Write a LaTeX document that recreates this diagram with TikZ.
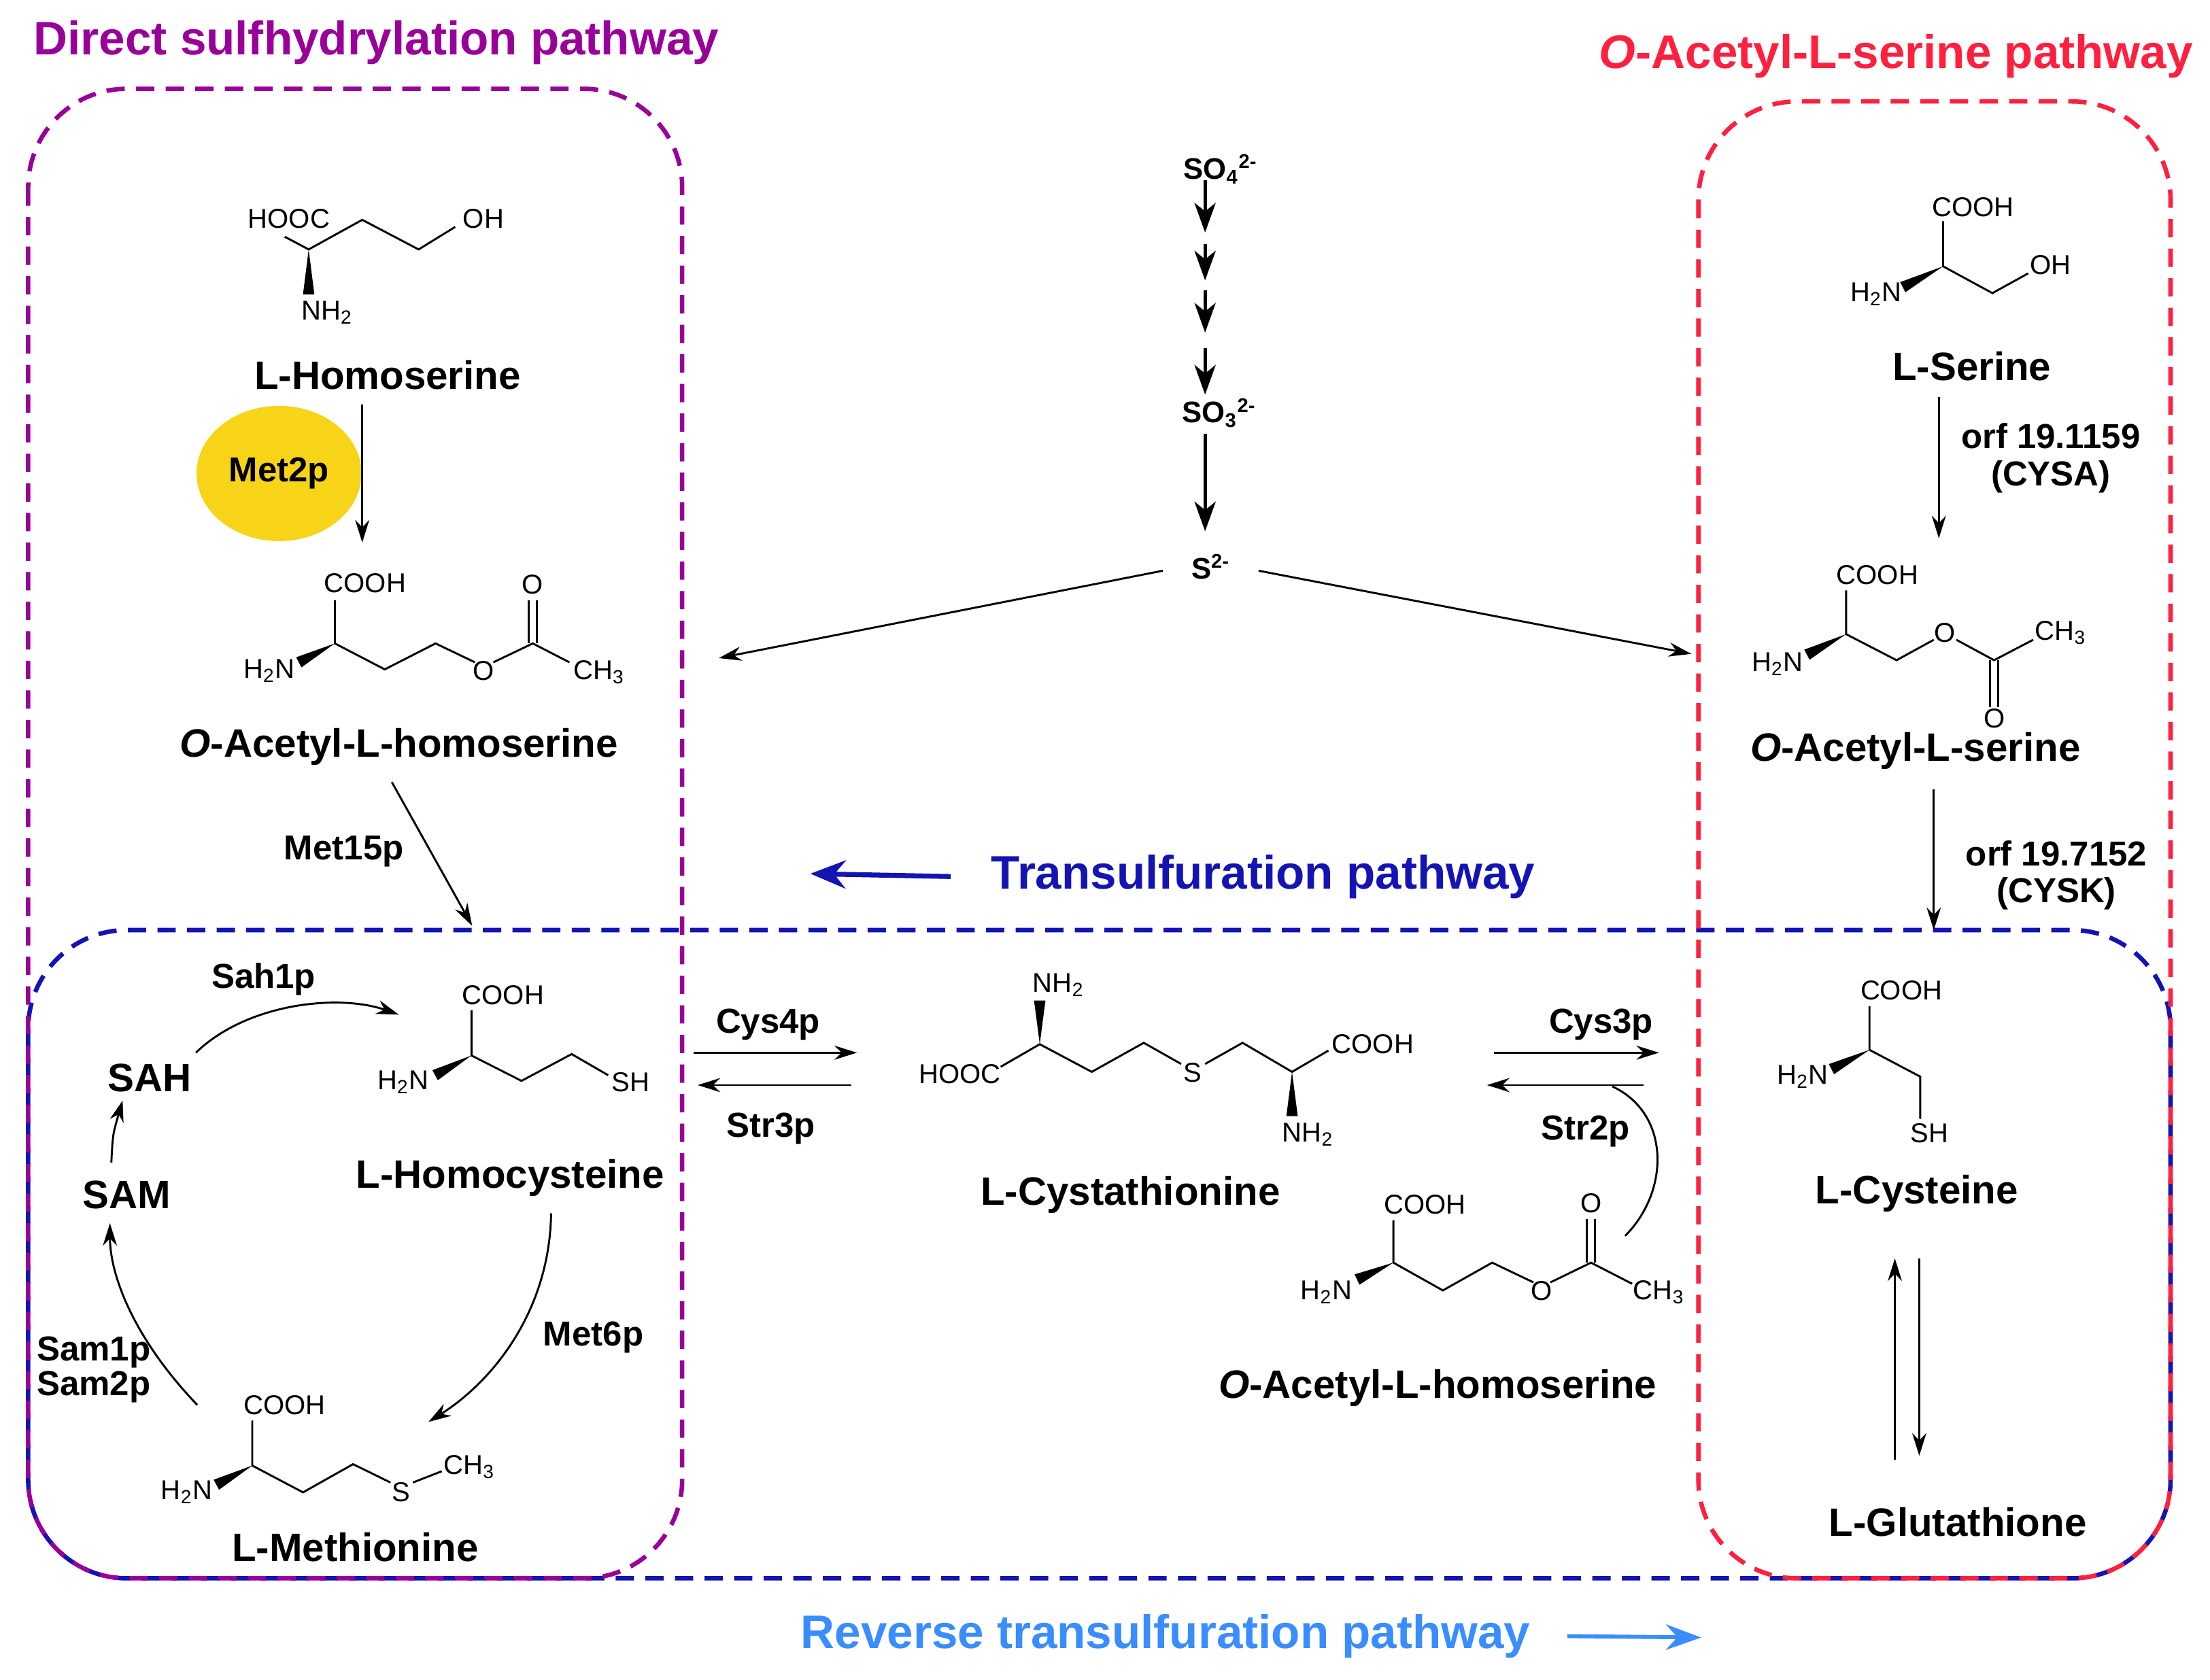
\documentclass[tikz,border=0pt]{standalone}
\usepackage{fontspec}
\setmainfont{Liberation Sans}
\usetikzlibrary{calc,arrows.meta,positioning,shapes.geometric}

\definecolor{dsPurple}{HTML}{990099}
\definecolor{oasRed}{HTML}{FF2040}
\definecolor{tsBlue}{HTML}{1414B4}
\definecolor{rtsBlue}{HTML}{3A8DFF}
\definecolor{enzYellow}{HTML}{F7D417}

\tikzset{
    bond/.style={line width=0.8pt},
    rxn/.style={line width=0.8pt,-{Stealth[length=0.32cm,width=0.2cm]}},
    bigrxn/.style={line width=1.4pt,-{Stealth[length=0.42cm,width=0.3cm,inset=0.12cm]}},
    atom/.style={inner sep=0.5pt,font=\fontsize{11}{11}\selectfont},
    mol/.style={font=\bfseries\fontsize{16}{16}\selectfont},
    enz/.style={font=\bfseries\fontsize{14}{14}\selectfont},
    ttl/.style={font=\bfseries\fontsize{19}{19}\selectfont},
    pathbox/.style={line width=1.8pt,dash pattern=on 0.26cm off 0.16cm,rounded corners=1.4cm},
}

\newcommand{\chemwedge}[2]{\fill #1 -- ($#2!2.3pt!90:#1$) -- ($#2!2.3pt!-90:#1$) -- cycle;}
\newcommand{\dblbond}[2]{\draw[bond] ([xshift=-1.6pt]#1) -- ([xshift=-1.6pt]#2);
    \draw[bond] ([xshift=1.6pt]#1) -- ([xshift=1.6pt]#2);}

\begin{document}
\begin{tikzpicture}[x=0.02cm,y=-0.02cm]
    \useasboundingbox (0,0) rectangle (1568,1192);

    % pathway boxes
    \draw[pathbox,tsBlue] (20,660) rectangle (1540,1120);
    \draw[pathbox,dsPurple] (20,63) rectangle (484,1120);
    \draw[pathbox,oasRed] (1205,72) rectangle (1540,1120);

    % titles
    \node[ttl,dsPurple] (dsTitle) at (267,30) {Direct sulfhydrylation pathway};
    \node[ttl,oasRed,anchor=east] (oasTitle) at (1562,40) {\textit{O}-Acetyl-L-serine pathway};
    \node[ttl,tsBlue,anchor=west] (tsTitle) at (697,622) {Transulfuration pathway};
    \coordinate (tsArrow) at (575,620);
    \draw[tsBlue,line width=2pt,-{Stealth[length=0.5cm,width=0.4cm]}] ([xshift=-0.45cm]tsTitle.west) -- (tsArrow);
    \node[ttl,rtsBlue,anchor=west] (rtsTitle) at (562,1161) {Reverse transulfuration pathway};
    \coordinate (rtsArrow) at (1207,1162);
    \draw[rtsBlue,line width=1.6pt,-{Stealth[length=0.5cm,width=0.36cm]}] ([xshift=0.4cm]rtsTitle.east) -- (rtsArrow);

    % L-Homoserine
    \node[atom] (hsCOOH) at (205,155) {HOOC};
    \node[atom] (hsOH) at (343,155) {OH};
    \node[atom] (hsN) at (232,222) {NH\textsubscript{2}};
    \draw[bond] (202,168) -- (219,177) -- (257,156) -- (297,177) -- (323,161);
    \chemwedge{(219,177)}{(219,209)}
    \node[mol] (homoser) at (275,266) {L-Homoserine};

    % Met2p
    \node[ellipse,fill=enzYellow,minimum width=2.24cm,minimum height=1.92cm,enz] (met2) at (198,336) {Met2p};
    \coordinate (oahTop) at (257,385);
    \draw[rxn] (257,287) -- (oahTop);

    % O-Acetyl-L-homoserine (left)
    \node[atom] at (259,414) {COOH};
    \node[atom] at (191,476) {H\textsubscript{2}N};
    \node[atom] at (343,476) {O};
    \node[atom] at (378,415) {O};
    \node[atom] at (425,477) {CH\textsubscript{3}};
    \draw[bond] (237.6,426) -- (237.6,456.6) -- (273,475) -- (309,456.6) -- (337,470);
    \draw[bond] (350,470) -- (378,456.6) -- (404,470);
    \dblbond{378,456.6}{378,426}
    \chemwedge{(237.6,456.6)}{(212,470)}
    \node[mol] (oahL) at (283,530) {\textit{O}-Acetyl-L-homoserine};
    \node[enz] (met15) at (244,604) {Met15p};
    \coordinate (hcyTop) at (335,657);
    \draw[rxn] (278,555) -- (hcyTop);

    % sulfate assimilation
    \node[atom,font=\bfseries\fontsize{12}{12}\selectfont] (so4) at (866,120) {SO\textsubscript{4}\textsuperscript{2-}};
    \node[atom,font=\bfseries\fontsize{12}{12}\selectfont] (so3) at (865,293) {SO\textsubscript{3}\textsuperscript{2-}};
    \node[atom,font=\bfseries\fontsize{12}{12}\selectfont] (s2) at (859,402) {S\textsuperscript{2-}};
    \foreach \ya/\yb in {128/165,173/199,206/236,247/280}
        \draw[bigrxn] (855,\ya) -- (855,\yb);
    \draw[bigrxn] (855,308) -- (855,377);
    \coordinate (sLeft) at (510,467);
    \coordinate (sRight) at (1200,464);
    \draw[rxn] (825,405) -- (sLeft);
    \draw[rxn] (893,405) -- (sRight);

    % L-Serine
    \node[atom] at (1400,147) {COOH};
    \node[atom] at (1331,209) {H\textsubscript{2}N};
    \node[atom] at (1455,188) {OH};
    \draw[bond] (1378.6,157) -- (1378.6,189) -- (1413.6,208) -- (1439,194);
    \chemwedge{(1378.6,189)}{(1350,203.8)}
    \node[mol] (serine) at (1399,260) {L-Serine};
    \draw[rxn] (1375.6,282) -- (1375.6,382);
    \node[enz,align=center] (cysA) at (1455,325) {orf 19.1159\\[1pt](CYSA)};

    % O-Acetyl-L-serine
    \node[atom] at (1332,408) {COOH};
    \node[atom] at (1261,471) {H\textsubscript{2}N};
    \node[atom] at (1380,449) {O};
    \node[atom] at (1415,510) {O};
    \node[atom] at (1462,449) {CH\textsubscript{3}};
    \draw[bond] (1309.8,419) -- (1309.8,450) -- (1345.6,468.5) -- (1372,454);
    \draw[bond] (1388,454) -- (1414.8,468.5) -- (1442.5,454);
    \dblbond{1414.8,468.5}{1414.8,502}
    \chemwedge{(1309.8,450)}{(1282,464.6)}
    \node[mol] (oas) at (1359,533) {\textit{O}-Acetyl-L-serine};
    \coordinate (cysTop) at (1372,660);
    \draw[rxn] (1372,560) -- (cysTop);
    \node[enz,align=center] (cysK) at (1459,621) {orf 19.7152\\[1pt](CYSK)};

    % L-Homocysteine
    \node[atom] at (357,706) {COOH};
    \node[atom] at (286,768) {H\textsubscript{2}N};
    \node[atom] at (447.6,768) {SH};
    \draw[bond] (334.5,717) -- (334.5,749) -- (370,767) -- (405.6,748) -- (431.5,763);
    \chemwedge{(334.5,749)}{(308.7,763)}
    \node[mol] (hcy) at (362,836) {L-Homocysteine};

    % methyl cycle
    \node[mol] (sah) at (106,765) {SAH};
    \node[mol] (sam) at (90,848) {SAM};
    \node[enz] (sah1) at (187,695) {Sah1p};
    \node[enz,align=left,anchor=west] (sam12) at (20,972) {Sam1p\\Sam2p};
    \node[enz] (met6) at (421,949) {Met6p};
    \draw[bond,-{Stealth[length=0.32cm,width=0.2cm]}] (139,747) .. controls (175,712) and (240,705) .. (283,720);
    \draw[bond,-{Stealth[length=0.3cm,width=0.2cm]}] (79,825) .. controls (80,805) .. (87,781);
    \draw[bond,-{Stealth[length=0.32cm,width=0.2cm]}] (140,997) .. controls (95,950) and (78,905) .. (78,868);
    \draw[bond,-{Stealth[length=0.32cm,width=0.2cm]}] (391,861) .. controls (390,930) and (350,980) .. (304,1009);

    % L-Methionine
    \node[atom] at (202,997) {COOH};
    \node[atom] at (132.5,1059) {H\textsubscript{2}N};
    \node[atom] at (284.4,1059) {S};
    \node[atom] at (333,1041) {CH\textsubscript{3}};
    \draw[bond] (179,1008) -- (179,1040) -- (215,1059) -- (250.5,1039) -- (277,1052);
    \draw[bond] (293,1052) -- (313.5,1044);
    \chemwedge{(179,1040)}{(153.5,1053.6)}
    \node[mol] (met) at (252,1098) {L-Methionine};

    % Cys4p / Str3p
    \node[enz] (cys4) at (545,727) {Cys4p};
    \node[enz] (str3) at (547,801) {Str3p};
    \draw[rxn] (492,747) -- (608,747);
    \draw[rxn] (604,770) -- (495,770);

    % L-Cystathionine
    \node[atom] at (681,762) {HOOC};
    \node[atom] at (751,699) {NH\textsubscript{2}};
    \node[atom] at (846,761) {S};
    \node[atom] at (974,741) {COOH};
    \node[atom] at (928,805) {NH\textsubscript{2}};
    \draw[bond] (710,757) -- (737.7,741) -- (774.6,760.6) -- (811.5,740) -- (838,755);
    \draw[bond] (855,755) -- (881.6,740) -- (916.7,760.6) -- (942.5,745.5);
    \chemwedge{(737.7,741)}{(737.7,710)}
    \chemwedge{(916.7,760.6)}{(916.7,792)}
    \node[mol] (cysta) at (802,848) {L-Cystathionine};

    % Cys3p / Str2p
    \node[enz] (cys3) at (1136,727) {Cys3p};
    \node[enz] (str2) at (1125,803) {Str2p};
    \draw[rxn] (1060,747) -- (1177,747);
    \draw[rxn] (1166,770) -- (1055,770);
    \draw[bond] (1153,877) .. controls (1185,845) and (1185,790) .. (1144,771);

    % O-Acetyl-L-homoserine (right)
    \node[atom] at (1011,855) {COOH};
    \node[atom] at (941,917) {H\textsubscript{2}N};
    \node[atom] at (1094,916) {O};
    \node[atom] at (1129,854) {O};
    \node[atom] at (1177,917) {CH\textsubscript{3}};
    \draw[bond] (988.6,866) -- (988.6,896) -- (1023.7,915.7) -- (1058.7,896) -- (1088,910);
    \draw[bond] (1100,910) -- (1128.8,896) -- (1158,911);
    \dblbond{1128.8,896}{1128.8,865}
    \chemwedge{(988.6,896)}{(962.8,908)}
    \node[mol] (oahR) at (1020,985) {\textit{O}-Acetyl-L-homoserine};

    % L-Cysteine
    \node[atom] at (1349,703) {COOH};
    \node[atom] at (1279,764) {H\textsubscript{2}N};
    \node[atom] at (1369,804) {SH};
    \draw[bond] (1326.4,714) -- (1326.4,745) -- (1362.4,764) -- (1362.4,794);
    \chemwedge{(1326.4,745)}{(1299.4,758.7)}
    \node[mol] (cys) at (1360,847) {L-Cysteine};
    \node[mol] (gsh) at (1389,1080) {L-Glutathione};
    \draw[rxn] (1344.4,1036) -- (1344.4,893);
    \draw[rxn] (1361.7,893) -- (1361.7,1033);
\end{tikzpicture}
\end{document}
